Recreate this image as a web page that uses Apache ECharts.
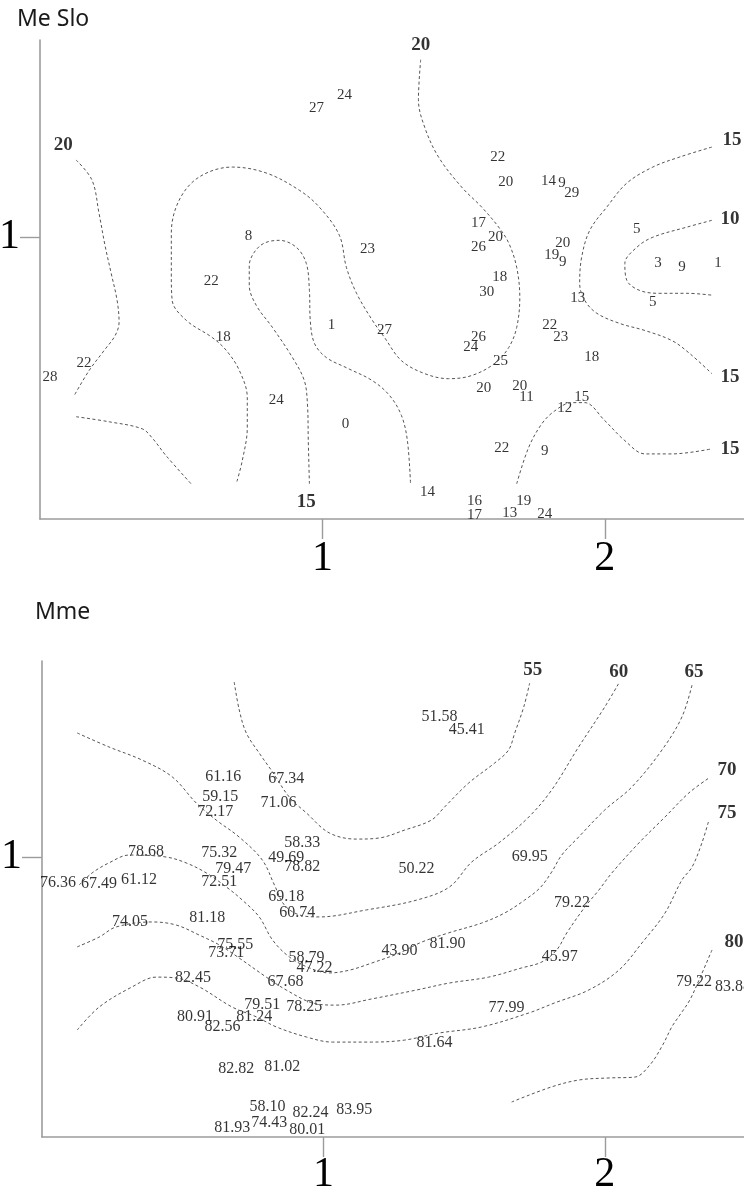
<!DOCTYPE html>
<html>
<head>
<meta charset="utf-8">
<script src="https://cdn.jsdelivr.net/npm/echarts@6/dist/echarts.min.js"></script>
<style>
html,body{margin:0;padding:0;background:#fff;}
#chart{width:744px;height:1193px;}
</style>
</head>
<body>
<div id="chart"></div>
<script>
// ---------- DATA ----------
const panelTitles = ['Me Slo', 'Mme'];
const xTicks = [1, 2];
const yTicks = [1];

// Panel 1 (Me Slo): sample values [x, y, label]
const sloValues = [
  [0.979,1.459,'27'],[1.078,1.505,'24'],[1.621,1.285,'22'],[1.649,1.196,'20'],
  [1.801,1.199,'14'],[1.848,1.192,'9'],[1.883,1.157,'29'],[1.553,1.050,'17'],
  [1.613,1.000,'20'],[1.553,0.964,'26'],[1.851,0.979,'20'],[1.812,0.936,'19'],
  [1.851,0.911,'9'],[1.628,0.858,'18'],[1.582,0.804,'30'],[1.904,0.783,'13'],
  [2.113,1.028,'5'],[2.188,0.907,'3'],[2.273,0.893,'9'],[2.401,0.907,'1'],
  [2.170,0.769,'5'],[0.738,1.004,'8'],[1.160,0.957,'23'],[0.606,0.843,'22'],
  [1.032,0.690,'1'],[1.220,0.669,'27'],[0.649,0.644,'18'],[1.553,0.644,'26'],
  [1.525,0.609,'24'],[1.805,0.690,'22'],[1.844,0.644,'23'],[1.631,0.559,'25'],
  [1.954,0.573,'18'],[1.571,0.466,'20'],[1.699,0.473,'20'],[1.723,0.434,'11'],
  [1.918,0.434,'15'],[1.858,0.395,'12'],[1.635,0.253,'22'],[1.787,0.242,'9'],
  [1.372,0.096,'14'],[1.539,0.064,'16'],[1.539,0.014,'17'],[1.713,0.064,'19'],
  [1.663,0.021,'13'],[1.787,0.018,'24'],[0.156,0.552,'22'],[0.035,0.505,'28'],
  [0.837,0.423,'24'],[1.082,0.338,'0']
];
// Panel 1 contour level labels
const sloLevels = [
  [1.348,1.683,'20'],[0.082,1.327,'20'],[2.450,1.345,'15'],[2.443,1.064,'10'],
  [2.443,0.505,'15'],[2.443,0.249,'15'],[0.943,0.060,'15']
];
// Panel 1 contour lines
const sloContours = [
  [[0.128,1.274],[0.184,1.203],[0.209,1.085],[0.230,0.972],[0.252,0.872],[0.273,0.776],[0.280,0.698],[0.266,0.651],[0.227,0.598],[0.174,0.527],[0.121,0.438]],
  [[0.128,0.363],[0.245,0.345],[0.362,0.320],[0.397,0.288],[0.447,0.224],[0.535,0.125]],
  [[1.348,1.630],[1.340,1.488],[1.362,1.391],[1.411,1.285],[1.493,1.178],[1.564,1.107],[1.624,1.036],[1.660,0.979],[1.688,0.893],[1.699,0.786],[1.688,0.680],[1.660,0.609],[1.610,0.552],[1.528,0.509],[1.447,0.498],[1.362,0.516],[1.280,0.562],[1.220,0.644],[1.177,0.705],[1.121,0.801],[1.085,0.893],[1.060,1.007],[0.989,1.107],[0.918,1.167],[0.801,1.228],[0.681,1.249],[0.564,1.214],[0.493,1.132],[0.465,1.014],[0.465,0.872],[0.468,0.776],[0.518,0.705],[0.610,0.644],[0.660,0.598],[0.706,0.527],[0.734,0.431],[0.734,0.324],[0.716,0.206],[0.695,0.125]],
  [[0.954,0.125],[0.950,0.278],[0.947,0.409],[0.936,0.491],[0.894,0.573],[0.823,0.680],[0.766,0.758],[0.741,0.829],[0.741,0.900],[0.759,0.947],[0.794,0.979],[0.848,0.989],[0.908,0.964],[0.943,0.907],[0.954,0.811],[0.957,0.705],[0.972,0.623],[1.014,0.573],[1.085,0.537],[1.177,0.491],[1.238,0.438],[1.280,0.367],[1.301,0.278],[1.312,0.125]],
  [[2.379,1.320],[2.266,1.285],[2.170,1.249],[2.078,1.192],[2.007,1.107],[1.947,1.025],[1.918,0.929],[1.911,0.836],[1.929,0.776],[1.972,0.730],[2.053,0.694],[2.142,0.669],[2.238,0.633],[2.301,0.587],[2.379,0.516]],
  [[2.379,1.060],[2.291,1.036],[2.170,1.000],[2.113,0.964],[2.071,0.907],[2.078,0.847],[2.124,0.811],[2.195,0.801],[2.291,0.801],[2.383,0.794]],
  [[1.688,0.125],[1.730,0.253],[1.777,0.338],[1.823,0.384],[1.883,0.413],[1.929,0.413],[2.000,0.349],[2.071,0.278],[2.142,0.231],[2.238,0.231],[2.379,0.249]]
];

// Panel 2 (Mme): sample values
const mmeValues = [
  [0.644,1.286,'61.16'],[0.868,1.279,'67.34'],[0.633,1.214,'59.15'],[0.616,1.161,'72.17'],
  [0.840,1.193,'71.06'],[0.925,1.050,'58.33'],[0.370,1.018,'78.68'],[0.630,1.014,'75.32'],
  [0.868,0.996,'49.69'],[0.925,0.964,'78.82'],[0.680,0.957,'79.47'],[1.331,0.957,'50.22'],
  [0.630,0.911,'72.51'],[0.057,0.907,'76.36'],[0.203,0.904,'67.49'],[0.345,0.918,'61.12'],
  [0.868,0.857,'69.18'],[0.907,0.800,'60.74'],[0.587,0.782,'81.18'],[0.313,0.768,'74.05'],
  [0.687,0.686,'75.55'],[0.655,0.657,'73.71'],[1.270,0.664,'43.90'],[1.441,0.689,'81.90'],
  [0.940,0.639,'58.79'],[0.968,0.604,'47.22'],[0.537,0.568,'82.45'],[0.865,0.554,'67.68'],
  [0.783,0.471,'79.51'],[0.932,0.464,'78.25'],[0.544,0.429,'80.91'],[0.754,0.429,'81.24'],
  [0.641,0.393,'82.56'],[0.690,0.243,'82.82'],[0.854,0.250,'81.02'],[0.801,0.107,'58.10'],
  [0.954,0.086,'82.24'],[1.110,0.096,'83.95'],[0.676,0.032,'81.93'],[0.808,0.050,'74.43'],
  [0.943,0.025,'80.01'],[1.413,1.500,'51.58'],[1.509,1.454,'45.41'],[1.733,1.000,'69.95'],
  [1.883,0.836,'79.22'],[1.840,0.643,'45.97'],[2.317,0.554,'79.22'],[2.456,0.536,'83.88'],
  [1.651,0.461,'77.99'],[1.395,0.336,'81.64']
];
const mmeLevels = [
  [1.744,1.668,'55'],[2.050,1.661,'60'],[2.317,1.661,'65'],[2.434,1.311,'70'],
  [2.434,1.157,'75'],[2.459,0.696,'80']
];
const mmeContours = [
  [[0.683,1.625],[0.701,1.525],[0.726,1.443],[0.772,1.371],[0.819,1.304],[0.879,1.214],[0.940,1.157],[1.021,1.086],[1.117,1.064],[1.199,1.068],[1.288,1.096],[1.384,1.132],[1.431,1.179],[1.516,1.264],[1.609,1.336],[1.658,1.382],[1.680,1.443],[1.712,1.536],[1.733,1.621]],
  [[0.125,1.443],[0.238,1.393],[0.356,1.346],[0.463,1.286],[0.548,1.193],[0.619,1.132],[0.701,1.071],[0.783,0.989],[0.826,0.900],[0.861,0.829],[0.915,0.793],[0.986,0.786],[1.153,0.811],[1.331,0.846],[1.448,0.893],[1.527,0.982],[1.623,1.050],[1.730,1.143],[1.811,1.239],[1.907,1.393],[2.000,1.536],[2.050,1.621]],
  [[0.132,0.900],[0.178,0.943],[0.238,0.979],[0.310,1.007],[0.441,1.000],[0.512,0.979],[0.584,0.943],[0.655,0.893],[0.712,0.846],[0.772,0.786],[0.819,0.704],[0.879,0.643],[0.950,0.604],[1.021,0.586],[1.093,0.596],[1.171,0.621],[1.270,0.657],[1.349,0.696],[1.445,0.729],[1.562,0.764],[1.644,0.800],[1.715,0.846],[1.769,0.889],[1.811,0.946],[1.847,1.007],[1.904,1.068],[2.000,1.168],[2.096,1.250],[2.203,1.382],[2.274,1.500],[2.310,1.614]],
  [[0.125,0.679],[0.203,0.714],[0.263,0.750],[0.391,0.768],[0.477,0.757],[0.559,0.721],[0.630,0.686],[0.701,0.639],[0.797,0.571],[0.868,0.525],[0.961,0.479],[1.046,0.471],[1.171,0.493],[1.331,0.525],[1.448,0.550],[1.587,0.571],[1.705,0.604],[1.776,0.625],[1.829,0.668],[1.865,0.729],[1.929,0.821],[1.979,0.882],[2.025,0.943],[2.121,1.050],[2.214,1.143],[2.299,1.229],[2.370,1.282]],
  [[0.125,0.382],[0.203,0.464],[0.320,0.536],[0.406,0.571],[0.477,0.568],[0.559,0.536],[0.676,0.464],[0.762,0.429],[0.833,0.393],[0.940,0.357],[1.032,0.339],[1.171,0.339],[1.288,0.346],[1.409,0.371],[1.562,0.393],[1.730,0.443],[1.822,0.479],[1.943,0.525],[2.050,0.596],[2.132,0.693],[2.214,0.800],[2.274,0.918],[2.310,0.964],[2.345,1.050],[2.370,1.132]],
  [[2.381,0.668],[2.335,0.561],[2.302,0.489],[2.267,0.436],[2.238,0.393],[2.206,0.329],[2.160,0.257],[2.107,0.214],[2.018,0.211],[1.911,0.204],[1.811,0.179],[1.669,0.125]]
];

// ---------- CHART ----------
const chart = echarts.init(document.getElementById('chart'), null, {renderer: 'canvas'});
const serif = 'Liberation Serif';
const axisColor = '#9c9c9c';

function xAxis(gridIndex, margin) {
  return {
    type: 'value', gridIndex, min: 0, max: 2.5,
    splitLine: {show: false},
    axisLine: {lineStyle: {color: axisColor, width: 1.6}},
    axisTick: {customValues: xTicks, length: 20, lineStyle: {color: axisColor, width: 1.4}},
    axisLabel: {customValues: xTicks, margin, fontFamily: serif, fontSize: 42, color: '#000'}
  };
}
function yAxis(gridIndex) {
  return {
    type: 'value', gridIndex, min: 0, max: 1.7,
    splitLine: {show: false},
    axisLine: {lineStyle: {color: axisColor, width: 1.6}},
    axisTick: {customValues: yTicks, length: 20, lineStyle: {color: axisColor, width: 1.4}},
    axisLabel: {customValues: yTicks, margin: 20, fontFamily: serif, fontSize: 42, color: '#000'}
  };
}

const series = [];
function addPanel(idx, values, levels, contours, valueSize) {
  contours.forEach(c => series.push({
    type: 'line', xAxisIndex: idx, yAxisIndex: idx, data: c,
    smooth: 0.35, showSymbol: false, symbol: 'none', silent: true,
    lineStyle: {color: '#555', width: 1, type: [3, 2.5]}
  }));
  series.push({
    type: 'scatter', xAxisIndex: idx, yAxisIndex: idx, data: values,
    symbolSize: 1, itemStyle: {color: 'rgba(0,0,0,0)'}, clip: false, silent: true,
    label: {show: true, position: 'inside', formatter: p => p.data[2],
      fontFamily: serif, fontSize: valueSize, color: '#000'}
  });
  series.push({
    type: 'scatter', xAxisIndex: idx, yAxisIndex: idx, data: levels,
    symbolSize: 1, itemStyle: {color: 'rgba(0,0,0,0)'}, clip: false, silent: true,
    label: {show: true, position: 'inside', formatter: p => p.data[2],
      fontFamily: serif, fontSize: 19, fontWeight: 'bold', color: '#000'}
  });
}
addPanel(0, sloValues, sloLevels, sloContours, 15);
addPanel(1, mmeValues, mmeLevels, mmeContours, 16);

chart.setOption({
  animation: false,
  backgroundColor: '#fff',
  title: [
    {text: panelTitles[0], left: 12, top: 3, textStyle: {fontFamily: 'Noto Sans', fontSize: 23, fontWeight: 'normal', color: '#1a1a1a'}},
    {text: panelTitles[1], left: 30, top: 596, textStyle: {fontFamily: 'Noto Sans', fontSize: 23, fontWeight: 'normal', color: '#1a1a1a'}}
  ],
  grid: [
    {left: 40, top: 40, width: 706, height: 479, outerBoundsMode: 'none', containLabel: false},
    {left: 42, top: 661, width: 703.5, height: 476, outerBoundsMode: 'none', containLabel: false}
  ],
  xAxis: [xAxis(0, 19), xAxis(1, 17)],
  yAxis: [yAxis(0), yAxis(1)],
  series
});
</script>
</body>
</html>
